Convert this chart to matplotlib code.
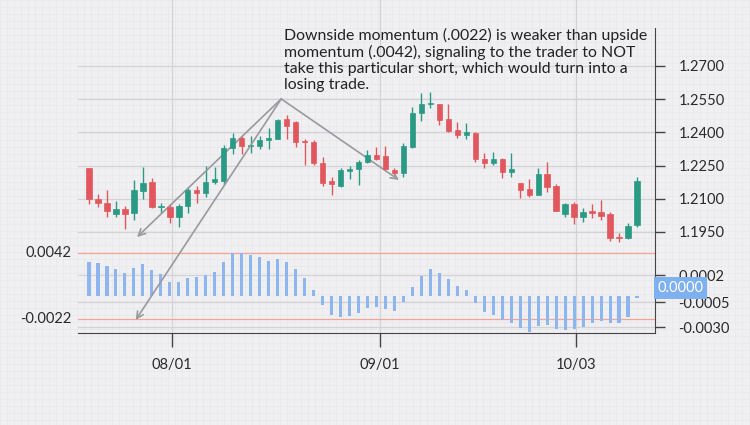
import matplotlib
matplotlib.use("Agg")
import matplotlib.pyplot as plt
import matplotlib.transforms as mtrans
import numpy as np

# daily candles (price), one per session
OPEN = [1.2238, 1.2100, 1.2082, 1.2033, 1.2052, 1.2034, 1.2137, 1.2174, 1.2062, 1.2062,
        1.2016, 1.2067, 1.2140, 1.2125, 1.2176, 1.2182, 1.2331, 1.2376, 1.2340, 1.2340,
        1.2365, 1.2370, 1.2459, 1.2448, 1.2361, 1.2358, 1.2263, 1.2180, 1.2158, 1.2226,
        1.2233, 1.2268, 1.2298, 1.2293, 1.2230, 1.2215, 1.2335, 1.2489, 1.2527, 1.2527,
        1.2459, 1.2411, 1.2388, 1.2396, 1.2280, 1.2260, 1.2280, 1.2220, 1.2170, 1.2143,
        1.2117, 1.2211, 1.2159, 1.2031, 1.2075, 1.2016, 1.2045, 1.2039, 1.2031, 1.1926,
        1.1924, 1.1982]
HIGH = [1.2240, 1.2123, 1.2140, 1.2091, 1.2067, 1.2185, 1.2245, 1.2193, 1.2082, 1.2076,
        1.2076, 1.2152, 1.2157, 1.2248, 1.2245, 1.2343, 1.2396, 1.2384, 1.2384, 1.2384,
        1.2418, 1.2460, 1.2479, 1.2451, 1.2369, 1.2366, 1.2287, 1.2200, 1.2238, 1.2248,
        1.2275, 1.2320, 1.2335, 1.2338, 1.2238, 1.2353, 1.2513, 1.2577, 1.2581, 1.2530,
        1.2527, 1.2446, 1.2441, 1.2400, 1.2305, 1.2313, 1.2283, 1.2305, 1.2172, 1.2188,
        1.2238, 1.2268, 1.2165, 1.2082, 1.2087, 1.2057, 1.2075, 1.2094, 1.2042, 1.1947,
        1.1992, 1.2200]
LOW = [1.2076, 1.2062, 1.2016, 1.2019, 1.1962, 1.2004, 1.2098, 1.2057, 1.2037, 1.1989,
       1.1974, 1.2037, 1.2082, 1.2109, 1.2167, 1.2162, 1.2301, 1.2301, 1.2305, 1.2325,
       1.2325, 1.2370, 1.2370, 1.2335, 1.2253, 1.2253, 1.2158, 1.2117, 1.2155, 1.2189,
       1.2162, 1.2260, 1.2275, 1.2230, 1.2207, 1.2200, 1.2331, 1.2453, 1.2509, 1.2433,
       1.2403, 1.2373, 1.2370, 1.2268, 1.2238, 1.2253, 1.2193, 1.2200, 1.2102, 1.2109,
       1.2117, 1.2132, 1.2045, 1.2016, 1.1985, 1.1996, 1.2012, 1.2004, 1.1911, 1.1906,
       1.1917, 1.1974]
CLOSE = [1.2098, 1.2082, 1.2043, 1.2052, 1.2033, 1.2140, 1.2173, 1.2062, 1.2066, 1.2016,
         1.2067, 1.2140, 1.2126, 1.2177, 1.2188, 1.2328, 1.2376, 1.2340, 1.2344, 1.2366,
         1.2376, 1.2456, 1.2429, 1.2358, 1.2355, 1.2263, 1.2173, 1.2165, 1.2230, 1.2233,
         1.2266, 1.2298, 1.2280, 1.2235, 1.2215, 1.2338, 1.2489, 1.2527, 1.2531, 1.2456,
         1.2406, 1.2388, 1.2403, 1.2280, 1.2260, 1.2280, 1.2220, 1.2235, 1.2140, 1.2117,
         1.2211, 1.2155, 1.2046, 1.2076, 1.2016, 1.2039, 1.2037, 1.2022, 1.1921, 1.1922,
         1.1977, 1.2180]
# momentum histogram, in units of 0.0001
MOMENTUM = [33.5, 32.5, 29.3, 26.7, 22.8, 27.7, 31.3, 25.7, 21.2, 14.0,
            14.0, 17.9, 18.6, 20.8, 23.1, 33.5, 42.0, 42.0, 40.3, 37.8,
            34.5, 36.4, 33.5, 26.1, 17.3, 5.9, -8.8, -18.6, -20.8, -19.5,
            -16.3, -12.0, -10.4, -12.7, -14.3, -6.2, 8.5, 19.5, 26.1, 22.8,
            16.3, 9.8, 5.9, -6.5, -15.3, -18.6, -23.4, -26.0, -31.6, -34.8,
            -29.3, -28.3, -32.5, -33.2, -32.5, -30.6, -26.7, -24.1, -26.7, -26.7,
            -20.8, -2.0]

PRICE_TICKS = [1.1950, 1.2100, 1.2250, 1.2400, 1.2550, 1.2700]
DATE_POS = [9.25, 32.4, 54.2]
DATE_LABELS = ["08/01", "09/01", "10/03"]
MOM_LEVELS = [0.0042, -0.0022]
MOM_RIGHT_POS = [0.00205, -0.00059, -0.00303]
MOM_RIGHT_LAB = ["0.0002", "-0.0005", "-0.0030"]
CURRENT_POS = 0.00078
CURRENT_LAB = "0.0000"
NOTE = ("Downside momentum (.0022) is weaker than upside\n"
        "momentum (.0042), signaling to the trader to NOT\n"
        "take this particular short, which would turn into a\n"
        "losing trade.")

plt.rcParams["font.family"] = ["Lato", "DejaVu Sans"]
BG = "#f0f0f2"
RED, GREEN, BLUE = "#e1575d", "#2b9a85", "#8db5ef"
AXC, TXT, GRID = "#444444", "#2a2a2a", "#d2d2d7"

fig = plt.figure(figsize=(7.5, 4.25), dpi=100, facecolor=BG)

# graph-paper background
bg = fig.add_axes([0, 0, 1, 1], zorder=-5)
bg.set_xlim(0, 750); bg.set_ylim(425, 0)
bg.set_xticks(np.arange(0, 750, 7)); bg.set_yticks(np.arange(0, 425, 7))
bg.grid(True, color="#e8e8eb", lw=0.5)
bg.tick_params(length=0, labelleft=False, labelbottom=False)
bg.set_frame_on(False)
bg.set_facecolor(BG)

L, R = 78 / 750, 655 / 750
ax = fig.add_axes([L, 180 / 425, R - L, 245 / 425])
axh = fig.add_axes([L, 92 / 425, R - L, 88 / 425])
x = np.arange(len(OPEN))
for a in (ax, axh):
    a.patch.set_visible(False)
    a.set_xlim(-1.22, 63.0)
    a.set_xticks(DATE_POS)
    a.grid(True, color=GRID, lw=0.9)
    a.set_axisbelow(True)
    a.spines[["left", "top"]].set_visible(False)
    a.spines["right"].set_color(AXC)
    a.yaxis.tick_right()

# --- price panel ---
ax.set_ylim(1.1891, 1.2998)
ax.spines["bottom"].set_visible(False)
ax.spines["right"].set_bounds(1.1891, 1.2872)
ax.set_yticks(PRICE_TICKS, [f"{v:.4f}" for v in PRICE_TICKS])
ax.tick_params(axis="y", length=7, width=1, color=AXC, labelsize=10.5, labelcolor=TXT, pad=10)
ax.tick_params(axis="x", length=0, labelbottom=False)

o, h, l, c = map(np.array, (OPEN, HIGH, LOW, CLOSE))
cols = np.where(c >= o, GREEN, RED)
ax.vlines(x, l, h, colors=cols, lw=1, zorder=3)
ax.bar(x, np.maximum(np.abs(c - o), 0.00025), bottom=np.minimum(o, c), width=0.6,
       color=cols, edgecolor=cols, lw=0.5, zorder=4)

# --- momentum panel ---
axh.set_ylim(-0.00361, 0.00498)
axh.spines["bottom"].set_color(AXC)
axh.bar(x, np.array(MOMENTUM) * 1e-4, width=0.35, color=BLUE, zorder=3)
for v in MOM_LEVELS:
    axh.axhline(v, color="#f2a594", lw=0.9, zorder=2)
    axh.text(-0.012, v, f"{v:.4f}", transform=mtrans.blended_transform_factory(axh.transAxes, axh.transData),
             ha="right", va="center", fontsize=10.5, color=TXT)
axh.set_yticks(MOM_RIGHT_POS, MOM_RIGHT_LAB)
axh.tick_params(axis="y", length=7, width=1, color=AXC, labelsize=10.5, labelcolor=TXT, pad=10)
axh.set_xticklabels(DATE_LABELS)
axh.tick_params(axis="x", length=10, width=1, color=AXC, labelsize=10.5, labelcolor=TXT, pad=8)
axh.text(1.004, CURRENT_POS, CURRENT_LAB,
         transform=mtrans.blended_transform_factory(axh.transAxes, axh.transData),
         ha="left", va="center", fontsize=10.5, color="white",
         bbox=dict(boxstyle="square,pad=0.25", fc="#7fb1f2", ec="none"))

# annotation arrows from the note
apex = (21.4, 1.2551)
arw = dict(arrowstyle="->", color="#9a9a9e", lw=1.2, shrinkA=0, shrinkB=0, mutation_scale=12)
ax.annotate("", xy=(5.35, 1.1927), xytext=apex, arrowprops=arw, annotation_clip=False)
ax.annotate("", xy=(34.5, 1.2185), xytext=apex, arrowprops=arw, annotation_clip=False)
axh.annotate("", xy=(5.2, -0.00234), xytext=apex, textcoords=ax.transData,
             arrowprops=arw, annotation_clip=False)

fig.text(284 / 750, 1 - 28 / 425, NOTE, ha="left", va="top", fontsize=11.4,
         linespacing=1.16, color="#222222")

fig.savefig("out.png", dpi=100, facecolor=BG)
